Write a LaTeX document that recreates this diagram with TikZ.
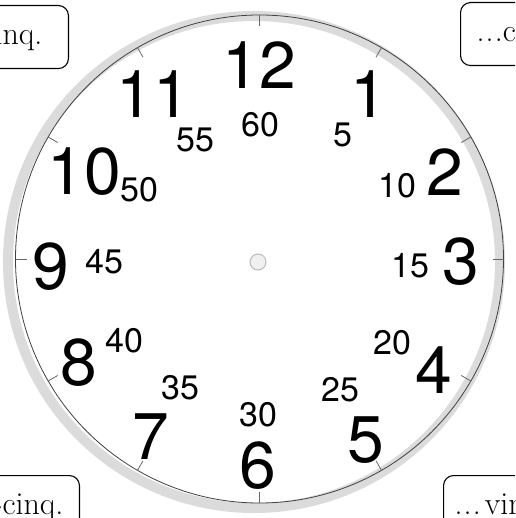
\documentclass[tikz,border=0pt]{standalone}
\usepackage{fontspec}
\newfontfamily\clockfont{TeX Gyre Heros}
\usetikzlibrary{positioning}
\newcommand{\lead}{.\kern1.2pt.\kern1.2pt.}

\begin{document}
\begin{tikzpicture}[x=1pt, y=-1pt,
    hour/.style={font=\clockfont\fontsize{66}{66}\selectfont, inner sep=0pt},
    minute/.style={font=\clockfont\fontsize{34}{34}\selectfont, inner sep=0pt},
    phrase/.style={draw, fill=white, line width=1.1pt, rounded corners=10pt,
      font=\fontsize{32}{36}\selectfont, minimum height=63pt, inner xsep=16pt},
    notch/.style={black!60, line width=0.8pt},
  ]
  \useasboundingbox (0,0) rectangle (515,518);
  \clip (0,0) rectangle (515,518);

  % Dial
  \draw[gray!28, line width=10pt] (254,262) circle[radius=246pt];
  \coordinate (c) at (259.5,259);
  \draw[black!75, line width=0.8pt] (c) circle[radius=244pt];
  \foreach \h in {1,...,12}
    \draw[notch, shift={(c)}] (-90+30*\h:244) -- (-90+30*\h:233);
  \draw[gray!55, fill=gray!12, line width=1pt] (258,262) circle[radius=8pt];

  % Hours
  \foreach \h/\px/\py in {12/259/65, 1/369/94, 2/445/172, 3/461/262,
                          4/434/370, 5/366/440, 6/258/466, 7/151/437,
                          8/79/363, 9/51/267, 10/84/172, 11/153/94}
    \node[hour] (h\h) at (\px,\py) {\h};

  % Minutes
  \foreach \m/\px/\py in {60/260/125, 5/343/135, 10/397/186, 15/410/266,
                          20/392/343, 25/340/390, 30/258/415, 35/180/388,
                          40/124/341, 45/104/262, 50/139/190, 55/195/140}
    \node[minute] (m\m) at (\px,\py) {\m};

  % Corner phrases
  \node[phrase, anchor=north east, inner xsep=26pt] (tl) at (69,5)
    {\lead moins cinq.};
  \node[phrase, anchor=north west] (tr) at (460,2) {\lead cinq.};
  \node[phrase, anchor=north east] (bl) at (80,475)
    {\lead moins vingt-cinq.};
  \node[phrase, anchor=north west, inner xsep=11pt] (br) at (443,475)
    {\lead\kern4pt vingt-cinq.};
\end{tikzpicture}
\end{document}
